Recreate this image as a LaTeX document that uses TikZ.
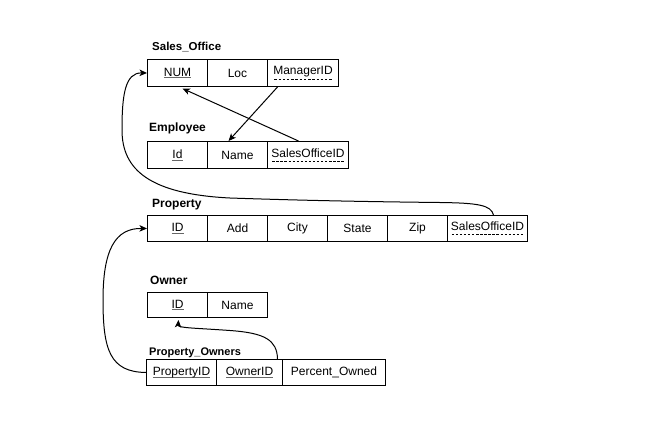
\documentclass[tikz,border=0pt]{standalone}
\usepackage{fontspec}
\setmainfont{Liberation Sans}
\usetikzlibrary{arrows.meta}
\newsavebox{\ulbox}
\newcommand{\sul}[1]{\sbox{\ulbox}{#1}\rlap{\color{black!60}\rule[-2pt]{\wd\ulbox}{0.8pt}}\usebox{\ulbox}}
\newcommand{\dul}[1]{\sbox{\ulbox}{#1}\rlap{\raisebox{-4.5pt}{\hbox to \wd\ulbox{\xleaders\hbox to 4pt{\hss\rule{2.4pt}{0.8pt}\hss}\hfil}}}\usebox{\ulbox}}
\tikzset{
  cell/.style={draw, line width=1pt, inner sep=0pt, anchor=north west, font=\fontsize{12}{14}\selectfont},
  ttl/.style={anchor=base west, inner sep=0pt, font=\bfseries\fontsize{12}{14}\selectfont},
  arr/.style={line width=1pt, -{Stealth[length=7.5pt,width=6.5pt,inset=2pt]}}
}
\begin{document}
\begin{tikzpicture}[x=1pt,y=-1pt]
\fill[white] (0,0) rectangle (654,421);
\useasboundingbox (0,0) rectangle (654,421);

% Sales_Office
\node[ttl, font=\bfseries\fontsize{11.5}{14}\selectfont] (tso) at (152,50) {Sales\_Office};
\node[cell, minimum width=60pt, minimum height=27pt] (num) at (147,59) {\sul{NUM}};
\node[cell, minimum width=60pt, minimum height=27pt] (loc) at (207,59) {Loc};
\node[cell, minimum width=71pt, minimum height=27pt] (mgr) at (267,59) {\dul{ManagerID}};

% Employee
\node[ttl] (temp) at (149,131) {Employee};
\node[cell, minimum width=60pt, minimum height=27pt] (eid) at (147,141) {\sul{Id}};
\node[cell, minimum width=60pt, minimum height=27pt] (ename) at (207,141) {Name};
\node[cell, minimum width=81pt, minimum height=27pt] (esoid) at (267,141) {\dul{SalesOfficeID}};

% Property
\node[ttl] (tprop) at (152,207) {Property};
\node[cell, minimum width=60pt, minimum height=26pt] (pid) at (147,215) {\sul{ID}};
\node[cell, minimum width=60pt, minimum height=26pt] (padd) at (207,215) {Add};
\node[cell, minimum width=60pt, minimum height=26pt] (pcity) at (267,215) {City};
\node[cell, minimum width=60pt, minimum height=26pt] (pstate) at (327,215) {State};
\node[cell, minimum width=60pt, minimum height=26pt] (pzip) at (387,215) {Zip};
\node[cell, minimum width=80pt, minimum height=26pt] (psoid) at (447,215) {\dul{SalesOfficeID}};

% Owner
\node[ttl] (town) at (150,284) {Owner};
\node[cell, minimum width=60pt, minimum height=25pt] (oid) at (147,292) {\sul{ID}};
\node[cell, minimum width=60pt, minimum height=25pt] (oname) at (207,292) {Name};

% Property_Owners
\node[ttl, font=\bfseries\fontsize{11}{13}\selectfont] (tpo) at (149,355) {Property\_Owners};
\node[cell, minimum width=70pt, minimum height=26pt] (ppid) at (146,359) {\sul{PropertyID}};
\node[cell, minimum width=66pt, minimum height=26pt] (pown) at (216,359) {\sul{OwnerID}};
\node[cell, minimum width=103pt, minimum height=26pt] (ppct) at (282,359) {Percent\_Owned};

% connectors
\draw[arr] ([xshift=-25.5pt]mgr.south) -- ([xshift=-9pt]ename.north);
\draw[arr] ([xshift=-9.5pt]esoid.north) -- ([xshift=5pt,yshift=-1.5pt]num.south);
\draw[arr] ([xshift=6pt]psoid.north) .. controls (491,205) and (478,203) .. (440,202.5)
  .. controls (350,201.5) and (290,200) .. (230,198)
  .. controls (150,194) and (122,170) .. (122,130)
  .. controls (122,95) and (125,72.5) .. (num.west);
\draw[arr] (ppid.west) .. controls (110,372) and (103,350) .. (103,300)
  .. controls (103,250) and (115,228) .. (pid.west);
\draw[arr] ([xshift=28pt]pown.north) .. controls (277,340) and (265,333) .. (230,330.5)
  .. controls (195,328) and (178,328) .. ([xshift=1pt,yshift=-2pt]oid.south);
\end{tikzpicture}
\end{document}
